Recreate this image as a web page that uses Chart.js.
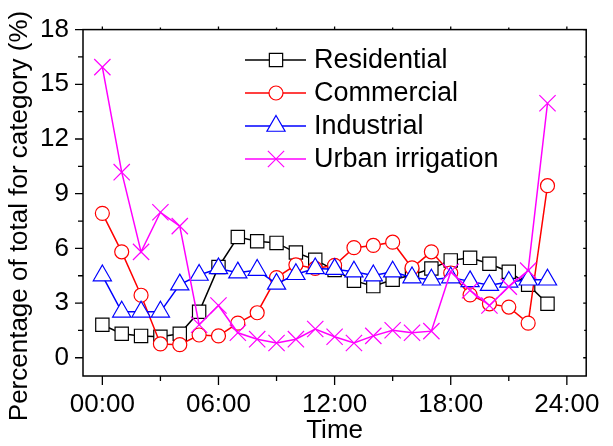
<!DOCTYPE html>
<html>
<head>
<meta charset="utf-8">
<script src="https://cdn.jsdelivr.net/npm/chart.js@4"></script>
<style>
  html, body { margin: 0; padding: 0; background: #fff; }
  #wrap { width: 613px; height: 446px; }
</style>
</head>
<body>
<div id="wrap"><canvas id="grafico" width="613" height="446"></canvas></div>
<script>
// horas del dia
const horas = [0, 1, 2, 3, 4, 5, 6, 7, 8, 9, 10, 11, 12, 13, 14, 15, 16, 17, 18, 19, 20, 21, 22, 23];

const residential = [1.81, 1.32, 1.2, 1.15, 1.32, 2.52, 4.98, 6.62, 6.39, 6.3, 5.77, 5.37, 4.81, 4.23, 3.93, 4.28, 4.54, 4.9, 5.34, 5.48, 5.16, 4.72, 4.01, 2.96];
const commercial = [7.92, 5.81, 3.43, 0.76, 0.72, 1.25, 1.2, 1.9, 2.47, 4.4, 5.1, 4.9, 5.07, 6.04, 6.16, 6.34, 4.93, 5.81, 4.65, 3.45, 2.96, 2.78, 1.9, 9.44];
const industrial = [4.51, 2.52, 2.52, 2.52, 4.01, 4.54, 4.9, 4.67, 4.81, 4.05, 4.58, 4.9, 4.86, 4.72, 4.51, 4.72, 4.4, 4.28, 4.4, 4.19, 3.98, 4.16, 4.28, 4.28];
const urbanIrrigation = [15.94, 10.18, 5.81, 7.98, 7.22, 1.81, 2.87, 1.37, 1.02, 0.81, 1.02, 1.58, 1.15, 0.81, 1.2, 1.51, 1.37, 1.46, 4.72, 3.7, 2.87, 3.9, 4.78, 13.96];

const xTickValues = [0, 6, 12, 18, 24];
const xTickLabels = ['00:00', '06:00', '12:00', '18:00', '24:00'];
const yTickValues = [0, 3, 6, 9, 12, 15, 18];

const xTitle = 'Time';
const yTitle = 'Percentage of total for category (%)';

const FONT = '"Liberation Sans", Arial, sans-serif';

function serie(label, data, color, style, radius, order) {
  return {
    label: label,
    data: horas.map((h, i) => ({ x: h, y: data[i] })),
    borderColor: color,
    backgroundColor: '#ffffff',
    borderWidth: 1.5,
    pointStyle: style,
    pointRadius: radius,
    pointBorderWidth: 1.2,
    pointBorderColor: color,
    pointBackgroundColor: '#ffffff',
    tension: 0,
    order: order
  };
}

const datasets = [
  serie('Residential', residential, '#000000', 'rect', 9.4, 4),
  serie('Commercial', commercial, '#ff0000', 'circle', 7, 3),
  serie('Industrial', industrial, '#0000ff', 'triangle', 10.5, 2),
  serie('Urban irrigation', urbanIrrigation, '#ff00ff', 'crossRot', 11.5, 1)
];

// marco, ticks, titulo del eje y y leyenda
const marcoPlugin = {
  id: 'marco',
  afterDraw(chart) {
    const ctx = chart.ctx;
    const a = chart.chartArea;
    const xs = chart.scales.x;
    const ys = chart.scales.y;
    ctx.save();
    ctx.strokeStyle = '#000';
    ctx.lineWidth = 1.5;
    ctx.strokeRect(a.left, a.top, a.right - a.left, a.bottom - a.top);

    ctx.lineWidth = 1.3;
    ctx.beginPath();
    // eje x
    xTickValues.forEach((v, i) => {
      const px = xs.getPixelForValue(v);
      ctx.moveTo(px, a.bottom); ctx.lineTo(px, a.bottom + 9);
      ctx.moveTo(px, a.top); ctx.lineTo(px, a.top - 3);
      if (i < xTickValues.length - 1) {
        const m = xs.getPixelForValue((v + xTickValues[i + 1]) / 2);
        ctx.moveTo(m, a.bottom); ctx.lineTo(m, a.bottom + 5);
        ctx.moveTo(m, a.top); ctx.lineTo(m, a.top - 2);
      }
    });
    // eje y
    yTickValues.forEach((v, i) => {
      const py = ys.getPixelForValue(v);
      ctx.moveTo(a.left, py); ctx.lineTo(a.left - 8, py);
      ctx.moveTo(a.right, py); ctx.lineTo(a.right - 3, py);
      if (i < yTickValues.length - 1) {
        const m = ys.getPixelForValue((v + yTickValues[i + 1]) / 2);
        ctx.moveTo(a.left, m); ctx.lineTo(a.left - 5, m);
        ctx.moveTo(a.right, m); ctx.lineTo(a.right - 2, m);
      }
    });
    ctx.stroke();

    // titulo eje y
    ctx.fillStyle = '#000';
    ctx.font = '26px ' + FONT;
    ctx.textAlign = 'center';
    ctx.textBaseline = 'middle';
    ctx.translate(20, 216);
    ctx.rotate(-Math.PI / 2);
    ctx.fillText(yTitle, 0, 0);
    ctx.restore();

    // leyenda
    ctx.save();
    const filas = [60, 93, 126, 159];
    chart.data.datasets.forEach((ds, i) => {
      const y = filas[i];
      ctx.strokeStyle = ds.borderColor;
      ctx.lineWidth = 1.5;
      ctx.beginPath();
      ctx.moveTo(245, y); ctx.lineTo(306, y);
      ctx.stroke();
      ctx.fillStyle = '#ffffff';
      ctx.lineWidth = ds.pointBorderWidth;
      Chart.helpers.drawPoint(ctx, {
        pointStyle: ds.pointStyle,
        radius: ds.pointRadius,
        borderWidth: ds.pointBorderWidth,
        rotation: 0
      }, 276, y);
      ctx.fillStyle = '#000';
      ctx.font = '27px ' + FONT;
      ctx.textAlign = 'left';
      ctx.textBaseline = 'middle';
      ctx.fillText(ds.label, 314, y + 1);
    });
    ctx.restore();
  }
};

const ctx = document.getElementById('grafico').getContext('2d');
new Chart(ctx, {
  type: 'line',
  data: { datasets: datasets },
  options: {
    responsive: false,
    animation: false,
    devicePixelRatio: 1,
    layout: { padding: { left: 0, right: 16, top: 16, bottom: 0 } },
    plugins: {
      legend: { display: false },
      tooltip: { enabled: false }
    },
    scales: {
      x: {
        type: 'linear',
        min: -1,
        max: 25,
        afterBuildTicks: s => { s.ticks = xTickValues.map(v => ({ value: v })); },
        afterFit: s => { s.height = 70; },
        grid: { display: false, drawTicks: false },
        border: { display: false },
        ticks: {
          padding: 13,
          color: '#000',
          font: { family: FONT, size: 26 },
          callback: v => xTickLabels[xTickValues.indexOf(v)]
        },
        title: {
          display: true,
          text: xTitle,
          color: '#000',
          font: { family: FONT, size: 26 },
          padding: { top: 0, bottom: 0 }
        }
      },
      y: {
        min: -1,
        max: 18,
        afterBuildTicks: s => { s.ticks = yTickValues.map(v => ({ value: v })); },
        afterFit: s => { s.width = 83; },
        grid: { display: false, drawTicks: false },
        border: { display: false },
        ticks: {
          padding: 14,
          color: '#000',
          font: { family: FONT, size: 26 }
        }
      }
    }
  },
  plugins: [marcoPlugin]
});
</script>
</body>
</html>
